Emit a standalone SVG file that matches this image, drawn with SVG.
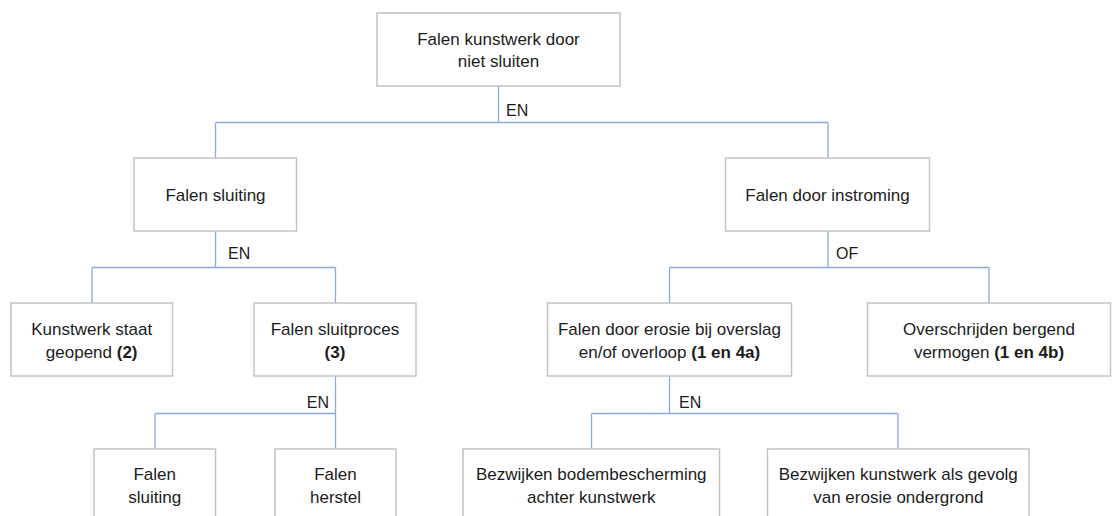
<svg xmlns="http://www.w3.org/2000/svg" width="1116" height="516" viewBox="0 0 1116 516">
<style>
.box{fill:#ffffff;stroke:#c4c4c4;stroke-width:1.5}
.t{font-family:"Liberation Sans",Arial,sans-serif;font-size:17px;fill:#1c1c1c;text-anchor:middle}
.lbl{font-family:"Liberation Sans",Arial,sans-serif;font-size:16px;fill:#1c1c1c}
.b{font-weight:bold}
.c{fill:none;stroke:#8eaadb;stroke-width:1.3}
</style>
<rect width="1116" height="516" fill="#ffffff"/>
<g id="connectors">
<path class="c" d="M498.5 86 V122.5 M215.5 122.5 H828 M215.5 122.5 V158 M828 122.5 V158"/>
<path class="c" d="M215.5 231 V267.5 M92 267.5 H335.5 M92 267.5 V303 M335.5 267.5 V303"/>
<path class="c" d="M828 231 V267.5 M669.5 267.5 H989 M669.5 267.5 V303 M989 267.5 V303"/>
<path class="c" d="M335.5 376 V449 M155 413.5 H335.5 M155 413.5 V449"/>
<path class="c" d="M669.5 376 V413.5 M591.5 413.5 H898 M591.5 413.5 V449 M898 413.5 V449"/>
<text class="lbl" x="506" y="116">EN</text>
<text class="lbl" x="228" y="259">EN</text>
<text class="lbl" x="836" y="259">OF</text>
<text class="lbl" x="329" y="408" text-anchor="end">EN</text>
<text class="lbl" x="679" y="408">EN</text>
</g>
<g id="n-top">
<rect class="box" x="377" y="13" width="243" height="73"/>
<text class="t" x="498.5" y="45">Falen kunstwerk door</text>
<text class="t" x="498.5" y="67">niet sluiten</text>
</g>
<g id="n-falen-sluiting">
<rect class="box" x="134" y="158" width="162.5" height="73"/>
<text class="t" x="215.5" y="201">Falen sluiting</text>
</g>
<g id="n-falen-instroming">
<rect class="box" x="725.5" y="158" width="204" height="73"/>
<text class="t" x="827.5" y="201">Falen door instroming</text>
</g>
<g id="n-kunstwerk-geopend">
<rect class="box" x="11" y="303" width="161.5" height="73"/>
<text class="t" x="91.7" y="335">Kunstwerk staat</text>
<text class="t" x="91.7" y="357.5">geopend <tspan class="b">(2)</tspan></text>
</g>
<g id="n-sluitproces">
<rect class="box" x="254" y="303" width="162" height="73"/>
<text class="t" x="335" y="335">Falen sluitproces</text>
<text class="t" x="335" y="357.5" font-weight="bold">(3)</text>
</g>
<g id="n-erosie">
<rect class="box" x="547.5" y="303" width="244" height="73"/>
<text class="t" x="669.5" y="335">Falen door erosie bij overslag</text>
<text class="t" x="669.5" y="357.5">en/of overloop <tspan class="b">(1 en 4a)</tspan></text>
</g>
<g id="n-bergend">
<rect class="box" x="867.5" y="303" width="243" height="73"/>
<text class="t" x="989" y="335">Overschrijden bergend</text>
<text class="t" x="989" y="357.5">vermogen <tspan class="b">(1 en 4b)</tspan></text>
</g>
<g id="n-sluiting2">
<rect class="box" x="94" y="449" width="121.5" height="80"/>
<text class="t" x="154.7" y="480">Falen</text>
<text class="t" x="154.7" y="502.5">sluiting</text>
</g>
<g id="n-herstel">
<rect class="box" x="275" y="449" width="121" height="80"/>
<text class="t" x="335.5" y="480">Falen</text>
<text class="t" x="335.5" y="502.5">herstel</text>
</g>
<g id="n-bodem">
<rect class="box" x="463" y="449" width="256.5" height="80"/>
<text class="t" x="591.3" y="480">Bezwijken bodembescherming</text>
<text class="t" x="591.3" y="502.5">achter kunstwerk</text>
</g>
<g id="n-ondergrond">
<rect class="box" x="767.5" y="449" width="261.5" height="80"/>
<text class="t" x="898.3" y="480">Bezwijken kunstwerk als gevolg</text>
<text class="t" x="898.3" y="502.5">van erosie ondergrond</text>
</g>
</svg>
